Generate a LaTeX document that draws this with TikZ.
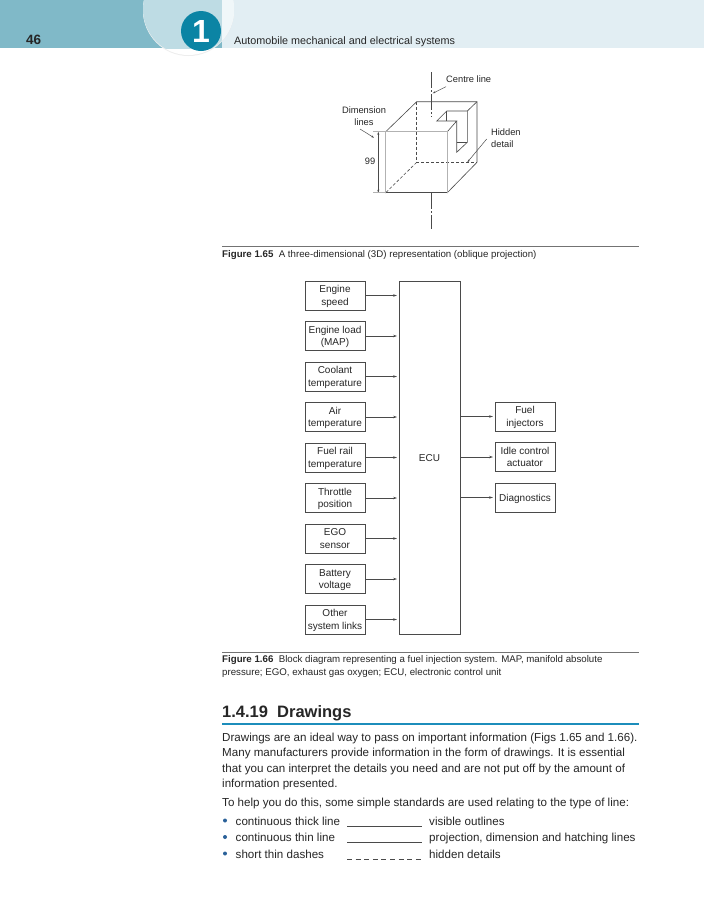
\documentclass[tikz,border=0pt]{standalone}
\usepackage{fontspec}
\setmainfont{Liberation Sans}
\usetikzlibrary{positioning,arrows.meta}
\definecolor{bandteal}{HTML}{80B9C8}
\definecolor{bandpale}{HTML}{E2EEF3}
\definecolor{discteal}{HTML}{BEDCE4}
\definecolor{discpale}{HTML}{F0F7F9}
\definecolor{badgeblue}{HTML}{0B84A4}
\definecolor{ruleblue}{HTML}{1C8DBB}
\definecolor{dotblue}{HTML}{2A6199}
\definecolor{inkgrey}{HTML}{4A4A4A}
\begin{document}
\begin{tikzpicture}[
  x=1pt,
  y=-1pt,
  every node/.style={font=\fontsize{9.3}{12}\selectfont, align=center, text=black!85},
  inbox/.style={draw=inkgrey, line width=.8pt, minimum width=60pt, minimum height=29pt, inner sep=0pt, outer sep=0pt, font=\fontsize{10}{12.3}\selectfont, text height=21.8pt, text depth=2.5pt},
  oneline/.style={text height=9.5pt},
  link/.style={draw=inkgrey, line width=.6pt, shorten >=2pt, -{Stealth[length=4pt,width=2.6pt]}},
  leader/.style={draw=inkgrey, line width=.5pt, -{Stealth[length=3pt,width=2pt]}},
  thinline/.style={draw=inkgrey, line width=.6pt},
  thickline/.style={draw=black!30, line width=1.4pt},
  hidden/.style={draw=inkgrey, line width=.6pt, dash pattern=on 3pt off 2pt},
  centre/.style={draw=inkgrey, line width=.5pt, dash pattern=on 16pt off 2pt on 2pt off 2pt},
  caption/.style={anchor=base west, inner sep=0pt, align=left, font=\fontsize{9.7}{11}\selectfont},
  bodytext/.style={anchor=base west, inner sep=0pt, align=left, font=\fontsize{11.6}{14}\selectfont},
  dot/.style={circle, fill=dotblue, inner sep=0pt, minimum size=4pt}
]
\useasboundingbox (0,0) rectangle (704,900);
\fill[white] (0,0) rectangle (704,900);

\fill[bandteal] (0,0) rectangle (222,48);
\fill[bandpale] (222,0) rectangle (704,48);
\fill[black!7] (188.5,10.5) circle (45.5);
\fill[white] (188.5,9.5) circle (45.5);
\begin{scope}
  \clip (0,0) rectangle (222,48);
  \fill[discteal] (188.5,9.5) circle (45.5);
\end{scope}
\begin{scope}
  \clip (222,0) rectangle (704,48);
  \fill[discpale] (188.5,9.5) circle (45.5);
\end{scope}
\node[circle, fill=badgeblue, minimum size=40pt, inner sep=0pt, text=white, font=\fontsize{32}{32}\selectfont\bfseries] (badge) at (201,31) {1};
\node[anchor=base west, inner sep=0pt, font=\fontsize{13.5}{14}\selectfont\bfseries] (pageno) at (26,44) {46};
\node[anchor=base west, inner sep=0pt, font=\fontsize{10.8}{12}\selectfont] (running) at (234,44) {Automobile mechanical and electrical systems};

\coordinate (fa) at (385.7,131.7);
\coordinate (fb) at (447.3,131.7);
\coordinate (fc) at (447.3,192.7);
\coordinate (fd) at (385.7,192.7);
\coordinate (ba) at (416.7,101.7);
\coordinate (bb) at (477,101.7);
\coordinate (bc) at (477,162.3);
\coordinate (bd) at (416.7,162.3);
\coordinate (na) at (446.7,111);
\coordinate (nb) at (467.3,111);
\coordinate (nc) at (436.7,121);
\coordinate (nd) at (456.7,121);
\coordinate (ne) at (456.7,152.3);
\coordinate (nf) at (467.3,142.3);
\coordinate (ng) at (456.7,142.3);
\coordinate (nh) at (446.7,121);
\draw[thinline] (fd) -- (fc);
\draw[thinline] (fa) -- (ba) -- (bb) -- (bc) -- (fc);
\draw[thinline] (bb) -- (nb) -- (na) -- (nc) -- (nd) -- (fb);
\draw[thinline] (na) -- (nh);
\draw[thinline] (nb) -- (nf) -- (ne) -- (nd);
\draw[thinline] (ng) -- (nf);
\draw[hidden] (ba) -- (bd) -- (bc);
\draw[hidden] (bd) -- (fd);
\draw[thickline, line cap=round] (fd) -- (fa) -- (fb) -- (fc);
\draw[centre] (431.7,72) -- (431.7,117);
\draw[centre] (431.7,193) -- (431.7,229);

\node[anchor=west, inner sep=0pt] (cline) at (446,79.5) {Centre line};
\node[inner sep=0pt] (dimlines) at (364,116) {Dimension\\lines};
\node[anchor=west, inner sep=0pt] (detail) at (491,138.5) [align=left] {Hidden\\detail};
\node[inner sep=0pt] (size) at (370,161.7) {99};
\coordinate (clfrom) at (446,86.7);
\coordinate (clto) at (432.7,93.3);
\coordinate (dlfrom) at (360,129);
\coordinate (dlto) at (374,137.7);
\coordinate (hdfrom) at (486.7,139);
\coordinate (hdto) at (467.3,162.3);
\coordinate (dimtop) at (378.3,131.7);
\coordinate (dimbot) at (378.3,192.7);
\draw[leader] (clfrom) -- (clto);
\draw[leader] (dlfrom) -- (dlto);
\draw[leader] (hdfrom) -- (hdto);
\draw[leader, {Stealth[length=3pt,width=2pt]}-{Stealth[length=3pt,width=2pt]}] (dimtop) -- (dimbot);
\draw[draw=black!30, line width=.6pt] (373.3,131.7) -- (fa);
\draw[draw=black!30, line width=.6pt] (373.3,192.7) -- (fd);

\draw[draw=black!55, line width=.6pt] (222,246.5) -- (639,246.5);
\node[caption] (cap65) at (222,257.5) {\textbf{Figure 1.65}\ \ A three-dimensional (3D) representation (oblique projection)};

\node[inbox, anchor=north west] (speed) at (305,281) {Engine\\speed};
\node[inbox, below=11.5pt of speed] (load) {Engine load\\(MAP)};
\node[inbox, below=11.5pt of load] (coolant) {Coolant\\temperature};
\node[inbox, below=11.5pt of coolant] (air) {Air\\temperature};
\node[inbox, below=11.5pt of air] (rail) {Fuel rail\\temperature};
\node[inbox, below=11.5pt of rail] (throttle) {Throttle\\position};
\node[inbox, below=11.5pt of throttle] (ego) {EGO\\sensor};
\node[inbox, below=11.5pt of ego] (battery) {Battery\\voltage};
\node[inbox, below=11.5pt of battery] (other) {Other\\system links};
\node[inbox, oneline, minimum width=61pt, minimum height=353pt, anchor=north west] (ecu) at (399,281) {ECU};
\node[inbox, anchor=west] (injectors) at (495,416.5) {Fuel\\injectors};
\node[inbox, below=11.5pt of injectors] (idle) {Idle control\\actuator};
\node[inbox, oneline, below=11.5pt of idle] (diag) {Diagnostics};
\draw[link] (speed.east) -- (speed.east -| ecu.west);
\draw[link] (load.east) -- (load.east -| ecu.west);
\draw[link] (coolant.east) -- (coolant.east -| ecu.west);
\draw[link] (air.east) -- (air.east -| ecu.west);
\draw[link] (rail.east) -- (rail.east -| ecu.west);
\draw[link] (throttle.east) -- (throttle.east -| ecu.west);
\draw[link] (ego.east) -- (ego.east -| ecu.west);
\draw[link] (battery.east) -- (battery.east -| ecu.west);
\draw[link] (other.east) -- (other.east -| ecu.west);
\draw[link] (injectors.west -| ecu.east) -- (injectors.west);
\draw[link] (idle.west -| ecu.east) -- (idle.west);
\draw[link] (diag.west -| ecu.east) -- (diag.west);

\draw[draw=black!55, line width=.6pt] (222,652) -- (639,652);
\node[caption] (cap66a) at (222,662.5) {\textbf{Figure 1.66}\ \ Block diagram representing a fuel injection system. MAP, manifold absolute};
\node[caption] (cap66b) at (222,675) {pressure; EGO, exhaust gas oxygen; ECU, electronic control unit};

\node[anchor=base west, inner sep=0pt, font=\fontsize{16.5}{18}\selectfont\bfseries] (heading) at (222,717.5) {1.4.19\ \ Drawings};
\draw[draw=ruleblue, line width=1.2pt] (222,724) -- (639,724);

\node[bodytext] (para1) at (222,741) {Drawings are an ideal way to pass on important information (Figs 1.65 and 1.66).};
\node[bodytext] (para2) at (222,756.5) {Many manufacturers provide information in the form of drawings. It is essential};
\node[bodytext] (para3) at (222,772) {that you can interpret the details you need and are not put off by the amount of};
\node[bodytext] (para4) at (222,787.5) {information presented.};
\node[bodytext] (para5) at (222,806.5) {To help you do this, some simple standards are used relating to the type of line:};
\node[dot] (dota) at (225,820.5) {};
\node[dot] (dotb) at (225,837) {};
\node[dot] (dotc) at (225,853.5) {};
\node[bodytext] (linea) at (235.5,825) {continuous thick line};
\node[bodytext] (lineb) at (235.5,841.5) {continuous thin line};
\node[bodytext] (linec) at (235.5,858) {short thin dashes};
\node[bodytext] (usea) at (429,825) {visible outlines};
\node[bodytext] (useb) at (429,841.5) {projection, dimension and hatching lines};
\node[bodytext] (usec) at (429,858) {hidden details};
\draw[thinline, line width=.5pt] (347,826) -- (422,826);
\draw[thinline, line width=.5pt] (347,842.5) -- (422,842.5);
\draw[thinline, line width=.5pt, dash pattern=on 5pt off 3.6pt] (347,859) -- (424,859);
\end{tikzpicture}
\end{document}
